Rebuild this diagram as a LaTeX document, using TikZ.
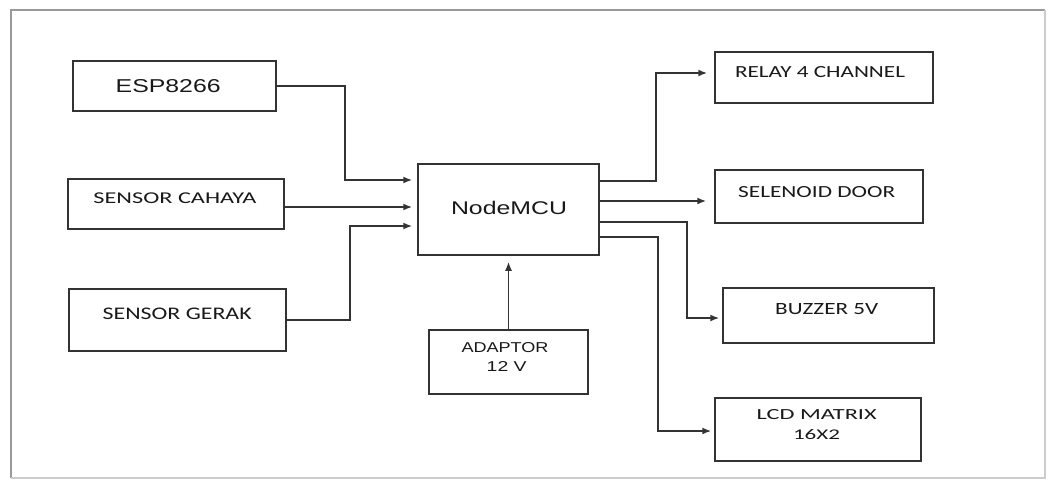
\documentclass[tikz,border=0pt]{standalone}
\usepackage{fontspec}
\usepackage{graphicx}
\usetikzlibrary{arrows.meta}
\newfontfamily\carl{Carlito}
\newfontfamily\libs{Liberation Sans}
\newcommand\fitlbl[3]{\resizebox{#1pt}{#2pt}{#3}}
\begin{document}
\begin{tikzpicture}[x=1pt,y=-1pt,
  box/.style={draw=black!80, line width=1.5pt, inner sep=0pt, rectangle},
  txt/.style={inner sep=0pt, text=black!90, font=\carl},
  txta/.style={txt, font=\libs},
  wire/.style={draw=black!80, line width=1.7pt},
  arr/.style={wire, -{Latex[length=9pt,width=7pt]}},
]
\fill[white] (0,0) rectangle (1051,484);
\useasboundingbox (0,0) rectangle (1051,484);
% frame
\draw[gray!80, line width=2pt] (11,478) -- (11,10) -- (1045,10);
\draw[gray!40, line width=1.2pt] (1045,10) -- (1045,478) -- (11,478);

% boxes
\node[box, minimum width=203pt, minimum height=50pt] (esp) at (174.5,86) {};
\node[box, minimum width=216pt, minimum height=50pt] (cahaya) at (176,204) {};
\node[box, minimum width=217pt, minimum height=62pt] (gerak) at (177.5,320) {};
\node[box, minimum width=181pt, minimum height=91pt] (mcu) at (508.5,209.5) {};
\node[box, minimum width=159pt, minimum height=64pt] (adaptor) at (508.5,362) {};
\node[box, minimum width=218pt, minimum height=51pt] (relay) at (824,77.5) {};
\node[box, minimum width=208pt, minimum height=53pt] (selenoid) at (819,196.5) {};
\node[box, minimum width=211pt, minimum height=55pt] (buzzer) at (828.5,315.5) {};
\node[box, minimum width=206pt, minimum height=63pt] (lcd) at (818,429.5) {};

% texts
\node[txta] (esp-t) at (168.2,86.5) {\fitlbl{105}{13}{ESP8266}};
\node[txta] (mcu-t) at (509,208.3) {\fitlbl{116}{13.3}{NodeMCU}};
\node[txt] (cahaya-t) at (175,198.7) {\fitlbl{163}{10.7}{SENSOR CAHAYA}};
\node[txt] (gerak-t) at (177.2,314.2) {\fitlbl{149}{11.5}{SENSOR GERAK}};
\node[txt] (relay-t) at (820,72.2) {\fitlbl{170}{11}{RELAY 4 CHANNEL}};
\node[txt] (selenoid-t) at (816.7,192.2) {\fitlbl{157}{11}{SELENOID DOOR}};
\node[txt] (buzzer-t) at (826.7,309.5) {\fitlbl{103}{11}{BUZZER 5V}};
\node[txt] (lcd-t1) at (816.7,414.7) {\fitlbl{120}{10}{LCD MATRIX}};
\node[txt] (lcd-t2) at (816.5,434.7) {\fitlbl{47}{10}{16X2}};
\node[txta] (adaptor-t1) at (505,347.3) {\fitlbl{87}{10}{ADAPTOR}};
\node[txta] (adaptor-t2) at (506.7,366.7) {\fitlbl{40}{10}{12 V}};

% input connectors
\coordinate (e1) at (345,180);
\draw[arr, shorten >=5pt] (esp.east) -| (e1) -- (mcu.west |- e1);
\coordinate (c2) at (300,207);
\draw[arr, shorten >=5pt] (cahaya.east |- c2) -- (mcu.west |- c2);
\coordinate (g1) at (350,226);
\draw[arr, shorten >=5pt] (gerak.east) -| (g1) -- (mcu.west |- g1);
\draw[arr, shorten >=6pt] (adaptor.north) -- (mcu.south);

% output connectors
\coordinate (r1) at (656,181); \coordinate (r2) at (656,73);
\draw[arr, shorten >=7pt] (mcu.east |- r1) -- (r1) -- (r2) -- (relay.west |- r2);
\coordinate (s1) at (650,201);
\draw[arr, shorten >=8pt] (mcu.east |- s1) -- (selenoid.west |- s1);
\coordinate (b1) at (687,222); \coordinate (b2) at (687,318);
\draw[arr, shorten >=3pt] (mcu.east |- b1) -- (b1) -- (b2) -- (buzzer.west |- b2);
\coordinate (l1) at (658,237); \coordinate (l2) at (658,431);
\draw[arr, shorten >=3pt] (mcu.east |- l1) -- (l1) -- (l2) -- (lcd.west |- l2);
\end{tikzpicture}
\end{document}
